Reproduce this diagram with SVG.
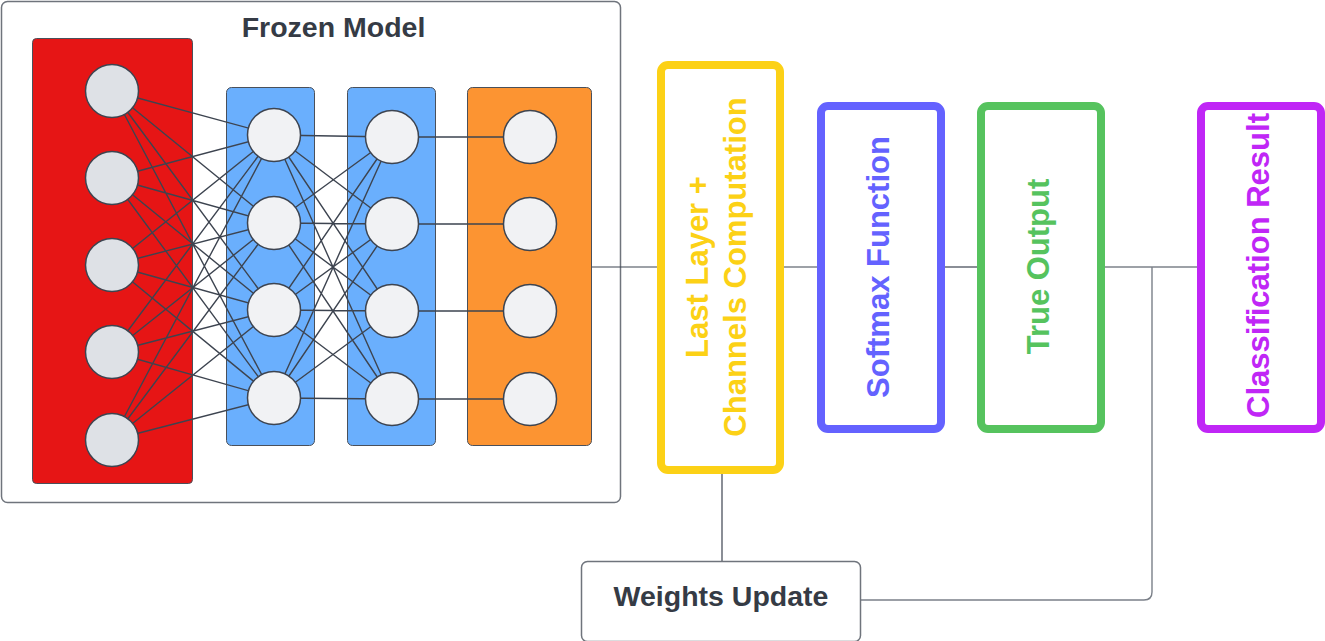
<svg xmlns="http://www.w3.org/2000/svg" width="1325" height="641" viewBox="0 0 1325 641">
<style>
.frame{fill:#ffffff;stroke:#6f747c;stroke-width:1.5}
.blk{stroke:#4a505a;stroke-width:1}
.nd{stroke:#3d4450;stroke-width:1.5}
.nr{fill:#dee1e6}
.nb{fill:#f1f2f4}
.w{stroke:#3d4450;stroke-width:1.4;fill:none}
.cn{stroke:#3d4450;stroke-width:1.2;fill:none}
.cg{stroke:#7b8089;stroke-width:1.4;fill:none}
.lbl{font-family:"Liberation Sans",Arial,sans-serif;font-weight:bold;text-anchor:middle}
.dark{fill:#353b45}
.box{fill:#ffffff;stroke-width:8}
</style>

<g id="frozen-model">
  <rect class="frame" x="1.5" y="1.5" width="619" height="501" rx="6"/>
  <text class="lbl dark" x="333.5" y="37" font-size="28.5">Frozen Model</text>
</g>

<g id="input-layer">
  <rect class="blk" x="32.5" y="38.5" width="160" height="445" rx="4" fill="#e61515"/>
</g>
<g id="hidden-layer-1">
  <rect class="blk" x="226.5" y="87.5" width="88" height="358" rx="5" fill="#6aaffd"/>
</g>
<g id="hidden-layer-2">
  <rect class="blk" x="347.5" y="87.5" width="88" height="358" rx="5" fill="#6aaffd"/>
</g>
<g id="output-layer">
  <rect class="blk" x="467.5" y="87.5" width="124" height="358" rx="5" fill="#fc9432"/>
</g>

<g id="weights">
  <!-- input -> hidden1 -->
  <path class="w" d="
  M112 91L274 135 M112 91L274 223 M112 91L274 310 M112 91L274 398
  M112 178L274 135 M112 178L274 223 M112 178L274 310 M112 178L274 398
  M112 265L274 135 M112 265L274 223 M112 265L274 310 M112 265L274 398
  M112 352L274 135 M112 352L274 223 M112 352L274 310 M112 352L274 398
  M112 440L274 135 M112 440L274 223 M112 440L274 310 M112 440L274 398"/>
  <!-- hidden1 -> hidden2 -->
  <path class="w" d="
  M274 135L392 137 M274 135L392 224 M274 135L392 311 M274 135L392 399
  M274 223L392 137 M274 223L392 224 M274 223L392 311 M274 223L392 399
  M274 310L392 137 M274 310L392 224 M274 310L392 311 M274 310L392 399
  M274 398L392 137 M274 398L392 224 M274 398L392 311 M274 398L392 399"/>
  <!-- hidden2 -> output -->
  <path class="w" d="M392 137L530 137 M392 224L530 224 M392 311L530 311 M392 399L530 399"/>
</g>

<g id="input-nodes">
  <circle id="in1" class="nd nr" cx="112" cy="91" r="26.5"/>
  <circle id="in2" class="nd nr" cx="112" cy="178" r="26.5"/>
  <circle id="in3" class="nd nr" cx="112" cy="265" r="26.5"/>
  <circle id="in4" class="nd nr" cx="112" cy="352" r="26.5"/>
  <circle id="in5" class="nd nr" cx="112" cy="440" r="26.5"/>
</g>
<g id="hidden1-nodes">
  <circle id="h1a" class="nd nb" cx="274" cy="135" r="26.5"/>
  <circle id="h1b" class="nd nb" cx="274" cy="223" r="26.5"/>
  <circle id="h1c" class="nd nb" cx="274" cy="310" r="26.5"/>
  <circle id="h1d" class="nd nb" cx="274" cy="398" r="26.5"/>
</g>
<g id="hidden2-nodes">
  <circle id="h2a" class="nd nb" cx="392" cy="137" r="26.5"/>
  <circle id="h2b" class="nd nb" cx="392" cy="224" r="26.5"/>
  <circle id="h2c" class="nd nb" cx="392" cy="311" r="26.5"/>
  <circle id="h2d" class="nd nb" cx="392" cy="399" r="26.5"/>
</g>
<g id="output-nodes">
  <circle id="o1" class="nd nb" cx="530" cy="137" r="26.5"/>
  <circle id="o2" class="nd nb" cx="530" cy="224" r="26.5"/>
  <circle id="o3" class="nd nb" cx="530" cy="311" r="26.5"/>
  <circle id="o4" class="nd nb" cx="530" cy="399" r="26.5"/>
</g>

<g id="connectors">
  <path class="cn" d="M592 267H657"/>
  <path class="cn" d="M784 267H817"/>
  <path class="cn" d="M945 267H977"/>
  <path class="cn" d="M1105 267H1197"/>
  <path class="cn" d="M722 474V561"/>
  <path class="cg" d="M1152 267V592Q1152 600 1144 600H861"/>
</g>

<g id="last-layer">
  <rect class="box" x="661" y="65" width="119" height="405" rx="7" stroke="#fcd116"/>
  <text class="lbl" fill="#fcd116" font-size="31" transform="translate(708 267) rotate(-90)">Last Layer +</text>
  <text class="lbl" fill="#fcd116" font-size="31" transform="translate(746 267) rotate(-90)">Channels Computation</text>
</g>

<g id="softmax">
  <rect class="box" x="821" y="106" width="120" height="323" rx="7" stroke="#6462ff"/>
  <text class="lbl" fill="#6462ff" font-size="31" transform="translate(889 267) rotate(-90)">Softmax Function</text>
</g>

<g id="true-output">
  <rect class="box" x="981" y="106" width="120" height="323" rx="7" stroke="#56c35e"/>
  <text class="lbl" fill="#56c35e" font-size="31" transform="translate(1049 266.5) rotate(-90)">True Output</text>
</g>

<g id="classification-result">
  <rect class="box" x="1201" y="106" width="120" height="323" rx="7" stroke="#c026f6"/>
  <text class="lbl" fill="#c026f6" font-size="31" transform="translate(1269 265.5) rotate(-90)">Classification Result</text>
</g>

<g id="weights-update">
  <rect class="frame" x="581.5" y="561.5" width="279" height="80" rx="6"/>
  <text class="lbl dark" x="721" y="606" font-size="28.5">Weights Update</text>
</g>
</svg>
